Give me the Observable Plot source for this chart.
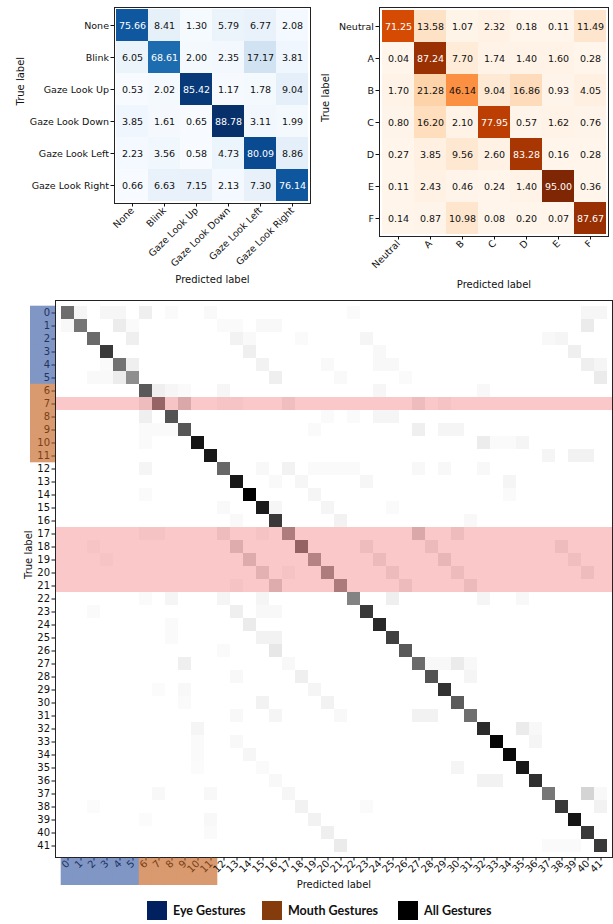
<!DOCTYPE html>
<html><head><meta charset="utf-8">
<script src="https://cdn.jsdelivr.net/npm/d3@7"></script>
<script src="https://cdn.jsdelivr.net/npm/@observablehq/plot@0.6"></script>
<style>
body{margin:0;background:#fff;}
#root{position:relative;width:613px;height:924px;overflow:hidden;font-family:"DejaVu Sans",sans-serif;background:#fff;}
.p{position:absolute;}
.leg{position:absolute;top:901px;display:flex;align-items:center;font-family:Lato,"Open Sans",sans-serif;font-weight:bold;font-size:12.5px;color:#111;white-space:nowrap;}
.leg .sw{display:inline-block;width:20px;height:19px;margin-right:6px;}
</style></head><body><div id="root"></div>
<script>
// ---------- data ----------
const eyeLabels = ["None","Blink","Gaze Look Up","Gaze Look Down","Gaze Look Left","Gaze Look Right"];
const eyeValues = [
  [75.66, 8.41, 1.30, 5.79, 6.77, 2.08],
  [6.05, 68.61, 2.00, 2.35, 17.17, 3.81],
  [0.53, 2.02, 85.42, 1.17, 1.78, 9.04],
  [3.85, 1.61, 0.65, 88.78, 3.11, 1.99],
  [2.23, 3.56, 0.58, 4.73, 80.09, 8.86],
  [0.66, 6.63, 7.15, 2.13, 7.30, 76.14]
];
const mouthLabels = ["Neutral","A","B","C","D","E","F"];
const mouthValues = [
  [71.25, 13.58, 1.07, 2.32, 0.18, 0.11, 11.49],
  [0.04, 87.24, 7.70, 1.74, 1.40, 1.60, 0.28],
  [1.70, 21.28, 46.14, 9.04, 16.86, 0.93, 4.05],
  [0.80, 16.20, 2.10, 77.95, 0.57, 1.62, 0.76],
  [0.27, 3.85, 9.56, 2.60, 83.28, 0.16, 0.28],
  [0.11, 2.43, 0.46, 0.24, 1.40, 95.00, 0.36],
  [0.14, 0.87, 10.98, 0.08, 0.20, 0.07, 87.67]
];
const allLabels = [0,1,2,3,4,5,6,7,8,9,10,11,12,13,14,15,16,17,18,19,20,21,22,23,24,25,26,27,28,29,30,31,32,33,34,35,36,37,38,39,40,41];
const allDiagonal = [65,62,66,82,63,53,72,60,74,73,93,92,67,92,100,91,82,49,61,46,49,50,57,82,87,80,72,66,74,84,71,64,86,98,97,92,85,61,82,93,82,82];
const allOffDiagonal = [
  [0,1,8],[0,3,7],[0,4,7],[0,6,12],[0,8,4],[0,11,5],[0,22,4],[0,40,7],[0,41,7],
  [1,0,6],[1,4,14],[1,5,4],[1,12,4],[1,13,4],[1,15,6],[1,16,6],[1,40,15],
  [2,5,12],[2,13,10],[2,14,5],[2,18,4],[2,23,8],[2,37,6],[2,38,8],
  [3,14,12],[3,24,6],[3,39,12],
  [4,3,4],[4,5,12],[4,15,10],[4,20,5],[4,24,6],[4,25,6],[4,40,12],[4,41,8],
  [5,2,5],[5,3,5],[5,4,14],[5,16,12],[5,21,5],[5,26,4],[5,41,15],
  [6,7,12],[6,8,7],[6,9,4],[6,12,7],[6,24,7],[6,32,6],
  [7,6,12],[7,8,4],[7,9,27],[7,12,4],[7,13,4],[7,17,10],[7,27,12],[7,29,6],
  [8,6,12],[8,20,4],[8,22,4],[8,24,8],[8,25,8],
  [9,6,4],[9,7,4],[9,8,4],[9,19,4],[9,27,12],[9,29,8],[9,30,8],
  [10,6,4],[10,32,14],[10,33,4],[10,34,4],[10,35,8],
  [11,37,8],[11,39,10],[11,40,10],
  [12,6,8],[12,15,6],[12,17,10],[12,19,4],[12,20,4],[12,21,4],[12,22,4],[12,27,6],[12,29,6],[12,32,6],
  [13,16,5],[13,18,7],[13,23,7],[13,34,8],
  [14,6,4],[14,19,8],[14,34,4],
  [15,12,5],[15,16,7],[15,20,8],[15,25,4],
  [16,13,5],[16,21,10],[16,31,6],
  [17,6,5],[17,7,5],[17,12,12],[17,15,5],[17,27,27],[17,30,12],
  [18,2,4],[18,13,24],[18,23,12],[18,28,14],[18,38,12],
  [19,3,4],[19,14,25],[19,24,14],[19,29,17],[19,39,10],
  [20,15,21],[20,17,5],[20,25,13],[20,30,13],[20,40,12],
  [21,13,5],[21,16,24],[21,26,13],[21,31,14],
  [22,6,4],[22,8,8],[22,12,8],[22,15,8],[22,25,12],[22,32,8],[22,35,6],
  [23,2,4],[23,13,12],[23,15,6],[23,16,6],
  [24,8,4],[24,14,15],
  [25,8,4],[25,15,10],[25,16,10],
  [26,12,4],[26,16,17],
  [27,9,12],[27,17,6],[27,28,6],[27,29,6],[27,30,15],[27,31,6],
  [28,13,6],[28,18,12],[28,31,8],
  [29,7,3],[29,9,6],[29,19,8],
  [30,9,4],[30,15,10],[30,20,10],
  [31,13,6],[31,16,8],[31,21,6],[31,27,10],[31,28,10],
  [32,10,8],[32,35,15],[32,36,6],
  [33,10,4],[33,13,6],[33,36,8],
  [34,10,4],[34,14,7],
  [35,10,3],[35,15,4],[35,30,8],
  [36,16,6],[36,32,10],[36,33,10],
  [37,7,6],[37,11,6],[37,17,7],[37,40,27],[37,41,6],
  [38,2,3],[38,18,10],[38,23,4],[38,41,10],
  [39,6,3],[39,11,6],[39,19,10],
  [40,11,4],[40,20,12],
  [41,21,15],[41,37,4],[41,38,4],[41,39,4]
];
const highlightRows = [7,17,18,19,20,21];
const eyeGestureIdx = [0,1,2,3,4,5];
const mouthGestureIdx = [6,7,8,9,10,11];
const otherIdx = [12,13,14,15,16,17,18,19,20,21,22,23,24,25,26,27,28,29,30,31,32,33,34,35,36,37,38,39,40,41];
const legendNames = ["Eye Gestures","Mouth Gestures","All Gestures"];
const legendColors = ["#002060","#843c0c","#000000"];

// ---------- helpers ----------
const root = document.getElementById("root");
function place(el, left, top){ el.classList.add("p"); el.style.left = left+"px"; el.style.top = top+"px"; root.appendChild(el); }
const baseStyle = {fontFamily:"DejaVu Sans, sans-serif", fontSize:"9.5px", background:"transparent", overflow:"visible", color:"#111"};

function smallMatrix(labels, values, scheme, opts){
  const data = values.flatMap((row,i)=>row.map((v,j)=>({t:labels[i], p:labels[j], v})));
  const mx = d3.max(data,d=>d.v), mn = d3.min(data,d=>d.v);
  return Plot.plot({
    width: opts.width, height: opts.height,
    marginLeft: opts.ml, marginTop: opts.mt, marginRight: opts.mr, marginBottom: opts.mb,
    style: baseStyle,
    x:{domain:labels, padding:0},
    y:{domain:labels, padding:0},
    color:{type:"linear", scheme, domain:[mn,mx]},
    marks:[
      Plot.cell(data,{x:"p", y:"t", fill:"v", inset:0}),
      Plot.text(data.filter(d=>d.v>mx/2),{x:"p", y:"t", text:d=>d.v.toFixed(2), fill:"white", fontSize:9.5}),
      Plot.text(data.filter(d=>d.v<=mx/2),{x:"p", y:"t", text:d=>d.v.toFixed(2), fill:"#111", fontSize:9.5}),
      Plot.frame({stroke:"#222"}),
      Plot.axisX({tickRotate:-45, tickSize:3.5, tickPadding:2, label:null, fontSize:9.5}),
      Plot.axisY({tickSize:3.5, tickPadding:2, label:null, fontSize:9.5}),
      Plot.text(["Predicted label"],{text:d=>d, frameAnchor:"bottom", dy:opts.px, fontSize:10}),
      Plot.text(["True label"],{text:d=>d, frameAnchor:"left", dx:opts.ty, rotate:-90, fontSize:10})
    ]
  });
}

// ---------- top-left: eye gestures ----------
place(smallMatrix(eyeLabels, eyeValues, "blues", {width:313, height:295, ml:114, mt:7, mr:3, mb:92, px:79, ty:-94}), 0, 0);
// ---------- top-right: mouth gestures ----------
place(smallMatrix(mouthLabels, mouthValues, "oranges", {width:300, height:300, ml:66, mt:7, mr:5, mb:64, px:51, ty:-54}), 313, 0);

// ---------- bottom: all gestures ----------
const allData = [];
allLabels.forEach(t=>allLabels.forEach(p=>allData.push({t,p,v:0})));
allLabels.forEach((t,i)=>{ allData[i*42+i].v = allDiagonal[i]; });
allOffDiagonal.forEach(([r,c,v])=>{ allData[r*42+c].v = v; });

const W = 613, H = 605, ML = 55, MR = 1, MT = 8, MB = 40;
const FW = W-ML-MR, FH = H-MT-MB;
const eyeBox = "#8096c4", mouthBox = "#d89a6e";
const p3 = Plot.plot({
  width:W, height:H, marginLeft:ML, marginRight:MR, marginTop:MT, marginBottom:MB,
  style: baseStyle,
  x:{domain:allLabels, padding:0},
  y:{domain:allLabels, padding:0},
  color:{type:"linear", scheme:"greys", domain:[0,100]},
  marks:[
    Plot.cell(allData,{x:"p", y:"t", fill:"v", inset:0}),
    Plot.cell(highlightRows,{y:d=>d, fill:"rgb(235,35,35)", fillOpacity:0.25, inset:0}),
    Plot.cell(eyeGestureIdx,{y:d=>d, fill:eyeBox, insetLeft:-25, insetRight:FW, insetTop:-0.3, insetBottom:-0.3}),
    Plot.cell(mouthGestureIdx,{y:d=>d, fill:mouthBox, insetLeft:-25, insetRight:FW, insetTop:-0.3, insetBottom:-0.3}),
    Plot.cell(eyeGestureIdx,{x:d=>d, fill:eyeBox, insetTop:FH, insetBottom:-28, insetLeft:-0.3, insetRight:-0.3}),
    Plot.cell(mouthGestureIdx,{x:d=>d, fill:mouthBox, insetTop:FH, insetBottom:-28, insetLeft:-0.3, insetRight:-0.3}),
    Plot.frame({stroke:"#222"}),
    Plot.axisY({ticks:eyeGestureIdx, color:"#22335f", tickSize:3.5, tickPadding:2, label:null, fontSize:10}),
    Plot.axisY({ticks:mouthGestureIdx, color:"#7a3f18", tickSize:3.5, tickPadding:2, label:null, fontSize:10}),
    Plot.axisY({ticks:otherIdx, color:"#111", tickSize:3.5, tickPadding:2, label:null, fontSize:10}),
    Plot.axisX({ticks:eyeGestureIdx, color:"#22335f", tickRotate:-45, tickSize:3.5, tickPadding:1, label:null, fontSize:10}),
    Plot.axisX({ticks:mouthGestureIdx, color:"#7a3f18", tickRotate:-45, tickSize:3.5, tickPadding:1, label:null, fontSize:10}),
    Plot.axisX({ticks:otherIdx, color:"#111", tickRotate:-45, tickSize:3.5, tickPadding:1, label:null, fontSize:10}),
    Plot.text(["Predicted label"],{text:d=>d, frameAnchor:"bottom", dy:30, fontSize:10}),
    Plot.text(["True label"],{text:d=>d, frameAnchor:"left", dx:-27, rotate:-90, fontSize:10})
  ]
});
place(p3, 0, 292);

// ---------- legend ----------
const legLeft = [147, 262, 398];
legendNames.forEach((name,i)=>{
  const d = document.createElement("div");
  d.className = "leg";
  d.style.left = legLeft[i]+"px";
  const sw = document.createElement("span");
  sw.className = "sw"; sw.style.background = legendColors[i];
  const tx = document.createElement("span");
  tx.textContent = name;
  d.appendChild(sw); d.appendChild(tx);
  root.appendChild(d);
});
</script></body></html>
